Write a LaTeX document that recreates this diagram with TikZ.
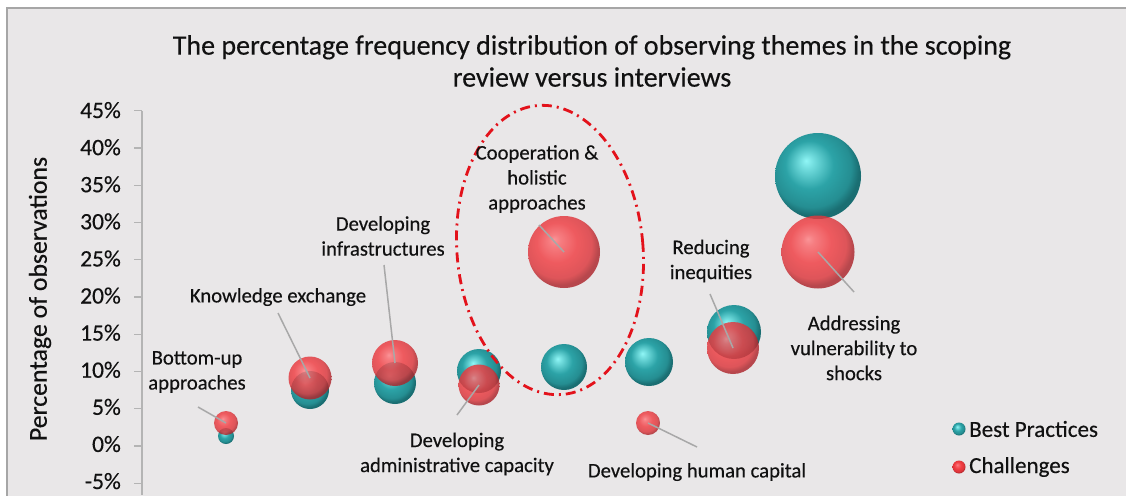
\documentclass[tikz,border=0pt]{standalone}
\usepackage{fontspec}
\setmainfont{Carlito}[FakeBold=0.35]
\definecolor{bg}{HTML}{E9E7E8}
\definecolor{framegray}{HTML}{A6A6A6}
\definecolor{axisgray}{HTML}{B4B4B4}
\definecolor{tealmain}{HTML}{2CA3A7}
\definecolor{teallight}{HTML}{90F6F6}
\definecolor{tealdark}{HTML}{1A6E72}
\definecolor{redmain}{HTML}{F03C41}
\definecolor{redlight}{HTML}{FF8286}
\definecolor{reddark}{HTML}{AD252B}
\definecolor{ellred}{HTML}{E3121B}
\definecolor{leadergray}{HTML}{A8A8A8}
\definecolor{txt}{HTML}{111111}
\pgfdeclareradialshading{tealball}{\pgfqpoint{-7bp}{9bp}}{color(0bp)=(teallight); color(4bp)=(teallight!70!tealmain); color(14bp)=(tealmain); color(23bp)=(tealmain!60!tealdark); color(27bp)=(tealdark); color(50bp)=(tealdark)}
\pgfdeclareradialshading{redball}{\pgfqpoint{-7bp}{9bp}}{color(0bp)=(redlight); color(4bp)=(redlight!60!redmain); color(14bp)=(redmain); color(23bp)=(redmain!70!reddark); color(27bp)=(reddark); color(50bp)=(reddark)}
\tikzset{
  bubble/.style={circle, inner sep=0pt, minimum size=#1},
  bpball/.style={bubble=#1, shade, shading=tealball},
  chball/.style={bubble=#1, shade, shading=redball, fill opacity=0.82},
  lbl/.style={font=\fontsize{20.7}{25}\selectfont, align=center, text=txt, inner sep=0pt},
  lead/.style={draw=leadergray, line width=1.5pt},
  ticklbl/.style={font=\fontsize{23.5}{27}\selectfont, anchor=east, text=txt, inner sep=0pt},
  legtxt/.style={font=\fontsize{23}{27}\selectfont, anchor=west, text=txt, inner sep=0pt},
}
\begin{document}
\begin{tikzpicture}[x=1pt,y=-1pt]
\useasboundingbox (0,0) rectangle (1126,495);
\fill[white] (0,0) rectangle (1126,495);
\draw[framegray, fill=bg, line width=1.5pt] (7,8) rectangle (1140,510);
% title
\node[font=\fontsize{28}{32}\selectfont, align=center, text=txt] (title) at (592,61) {The percentage frequency distribution of observing themes in the scoping\\review versus interviews};
% y axis
\draw[axisgray, line width=1.2pt] (142,110.75) -- (142,495);
\foreach \v/\t in {45/45\%,40/40\%,35/35\%,30/30\%,25/25\%,20/20\%,15/15\%,10/10\%,5/5\%,0/0\%,-5/-5\%}{
  \draw[axisgray, line width=1.2pt] (134,{446-\v*7.45}) -- (142,{446-\v*7.45});
  \node[ticklbl] at (121,{444-\v*7.42}) {\t};
}
\node[font=\fontsize{25.8}{30}\selectfont, rotate=90, text=txt] (ytitle) at (40,299) {Percentage of observations};
% bubbles: best practices
\node[bpball=16] (bu1) at (226,436) {};
\node[bpball=38] (ke1) at (310,390) {};
\node[bpball=42] (di1) at (395,383) {};
\node[bpball=44] (da1) at (479,371) {};
\node[bpball=46] (ch1) at (564,367) {};
\node[bpball=48] (hc1) at (649,362) {};
\node[bpball=54] (ri1) at (734,332) {};
\node[bpball=86] (av1) at (818,176) {};
% bubbles: challenges
\node[chball=24] (bu2) at (226,423) {};
\node[chball=43] (ke2) at (310,378) {};
\node[chball=46] (di2) at (395,363) {};
\node[chball=41] (da2) at (479,385) {};
\node[chball=72] (ch2) at (564,252) {};
\node[chball=24] (hc2) at (648,423) {};
\node[chball=52] (ri2) at (733,348) {};
\node[chball=73] (av2) at (818,252) {};
% highlight ellipse
\draw[ellred, line width=2.8pt, dash pattern=on 10pt off 5pt on 2pt off 5pt, rotate around={5:(550,250)}] (550,250) ellipse [x radius=93, y radius=145];
% labels
\node[lbl] (lbu) at (197,372) {Bottom-up\\approaches};
\node[lbl] (lke) at (278,297) {Knowledge exchange};
\node[lbl] (ldi) at (383,236) {Developing\\infrastructures};
\node[lbl] (lda) at (457,454) {Developing\\administrative capacity};
\node[lbl] (lch) at (537,179) {Cooperation \&\\holistic\\approaches};
\node[lbl] (lhc) at (697,472) {Developing human capital};
\node[lbl] (lri) at (711,261) {Reducing\\inequities};
\node[lbl] (lav) at (854,348) {Addressing\\vulnerability to\\shocks};
% leader ends
\coordinate (cbu) at (198,407);
\coordinate (cke) at (278,313);
\coordinate (cdi) at (384,265);
\coordinate (cda) at (457,415);
\coordinate (cch) at (539,225);
\coordinate (chc) at (697,447);
\coordinate (cri) at (710,294);
\coordinate (cav) at (854,292);
\draw[lead] (cbu) -- (bu2.center);
\draw[lead] (cke) -- (ke2.center);
\draw[lead] (cdi) -- (di2.center);
\draw[lead] (cda) -- (da2.center);
\draw[lead] (cch) -- (ch2.center);
\draw[lead] (chc) -- (hc2.center);
\draw[lead] (cri) -- (ri2.center);
\draw[lead] (cav) -- (av2.center);
% legend
\node[bpball=13] (lg1) at (959,429) {};
\node[chball=13, fill opacity=1] (lg2) at (959,467) {};
\node[legtxt] (lt1) at (969,429) {Best Practices};
\node[legtxt] (lt2) at (969,467) {Challenges};
\end{tikzpicture}
\end{document}
